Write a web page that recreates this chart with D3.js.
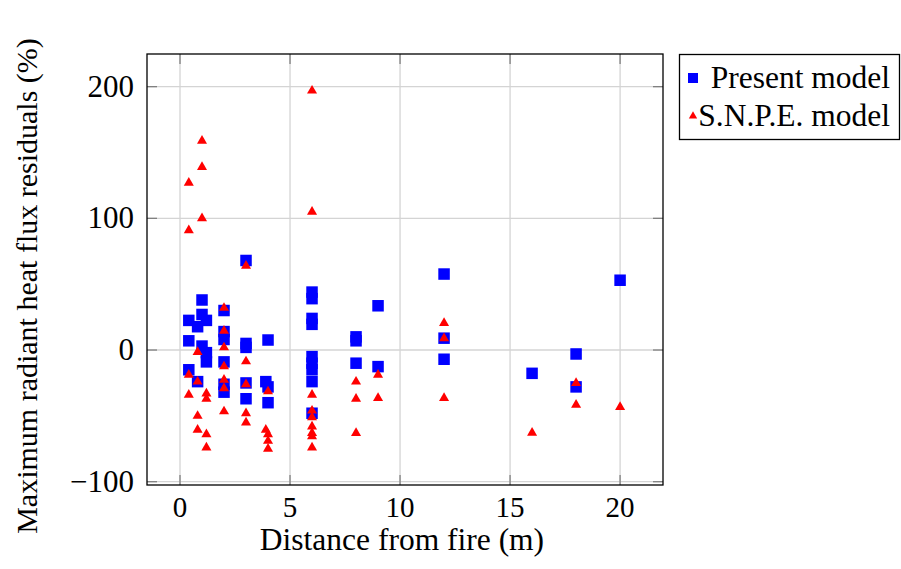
<!DOCTYPE html>
<html>
<head>
<meta charset="utf-8">
<script src="https://cdn.jsdelivr.net/npm/d3@7"></script>
<style>
  body { margin: 0; background: #fff; }
  text { font-family: "Liberation Serif", "Times New Roman", serif; fill: #000; }
</style>
</head>
<body>
<div id="chart"></div>
<script>
// Residuals
const presentX = [0.4, 0.4, 0.4, 0.8, 0.8, 1, 1, 1, 1.2, 1.2, 1.2,
  2, 2, 2, 2, 2, 2, 3, 3, 3, 3, 3, 3.9, 4, 4, 4,
  6, 6, 6, 6, 6, 6, 6, 6, 6, 8, 8, 8, 9, 9, 12, 12, 12, 16, 18, 18, 20];
const presentY = [22.5, 7, -15, 17.7, -24, 38, 27, 3, 22.5, -2, -9,
  30, 14, 8, -9, -26, -32, 68, 5, 2, -25, -37, -24, 7.6, -28, -40,
  44, 39, 24, 19.5, -5, -10, -15, -24, -48, 10, 7, -10, 33.6, -12.6, 57.7, 9, -7, -17.7, -3, -28, 53];

const snpeX = [0.4, 0.4, 0.4, 0.4, 0.8, 0.8, 0.8, 0.8, 1, 1, 1, 1.2, 1.2, 1.2, 1.2,
  2, 2, 2, 2, 2, 2, 2, 3, 3, 3, 3, 3, 4, 3.9, 4, 4, 4,
  6, 6, 6, 6, 6, 6, 6, 6, 6, 8, 8, 8, 9, 9, 12, 12, 12, 16, 18, 18, 20];
const snpeY = [128, 92, -17.7, -33, -0.5, -23, -49, -59.5, 160, 140, 101, -32, -36, -63, -73,
  33, 15.7, 3, -11.4, -21.5, -28, -45.6, 65, -7.6, -25, -47, -54, -30.4, -59.5, -63, -68, -74,
  198, 106, -33, -45, -50, -57, -62, -64.5, -73, -23, -36, -62, -17.7, -35.4, 21.5, 10, -35.4, -61.8, -24, -40.5, -42.3];

const xTicks = [0, 5, 10, 15, 20];
const yTicks = [-100, 0, 100, 200];
const seriesNames = ["Present model", "S.N.P.E. model"];

const width = 901, height = 569;
const plotL = 147, plotR = 663, plotT = 54, plotB = 485;

const svg = d3.select("#chart").append("svg")
  .attr("width", width)
  .attr("height", height);

const x = d3.scaleLinear().domain([-1.5, 21.95]).range([plotL, plotR]);
const y = d3.scaleLinear().domain([-102.5, 224.8]).range([plotB, plotT]);

// grid
svg.append("g").selectAll("line").data(xTicks).join("line")
  .attr("x1", d => x(d)).attr("x2", d => x(d))
  .attr("y1", plotT).attr("y2", plotB)
  .attr("stroke", "#d4d4d4").attr("stroke-width", 1.3);
svg.append("g").selectAll("line").data(yTicks).join("line")
  .attr("x1", plotL).attr("x2", plotR)
  .attr("y1", d => y(d)).attr("y2", d => y(d))
  .attr("stroke", "#d4d4d4").attr("stroke-width", 1.3);

// tick marks, inside on all four sides
const tickLen = 10;
const ticks = svg.append("g").attr("stroke", "#808080").attr("stroke-width", 1.3);
xTicks.forEach(t => {
  ticks.append("line").attr("x1", x(t)).attr("x2", x(t)).attr("y1", plotB).attr("y2", plotB - tickLen);
  ticks.append("line").attr("x1", x(t)).attr("x2", x(t)).attr("y1", plotT).attr("y2", plotT + tickLen);
});
yTicks.forEach(t => {
  ticks.append("line").attr("x1", plotL).attr("x2", plotL + tickLen).attr("y1", y(t)).attr("y2", y(t));
  ticks.append("line").attr("x1", plotR).attr("x2", plotR - tickLen).attr("y1", y(t)).attr("y2", y(t));
});

// tick labels
svg.append("g").selectAll("text").data(xTicks).join("text")
  .attr("x", d => x(d)).attr("y", 517)
  .attr("text-anchor", "middle")
  .style("font-size", "29px")
  .text(d => d);
svg.append("g").selectAll("text").data(yTicks).join("text")
  .attr("x", 134).attr("y", d => y(d) + 10)
  .attr("text-anchor", "end")
  .style("font-size", "31px")
  .text(d => d < 0 ? "\u2212" + Math.abs(d) : d);

// markers
const sq = 11.5;
svg.append("g").selectAll("rect").data(presentX.map((d, i) => [d, presentY[i]])).join("rect")
  .attr("x", d => x(d[0]) - sq / 2)
  .attr("y", d => y(d[1]) - sq / 2)
  .attr("width", sq).attr("height", sq)
  .attr("fill", "#0000ff");

function tri(cx, cy, r) {
  const w = r * Math.cos(Math.PI / 6);
  return `M${cx},${cy - r}L${cx + w},${cy + r / 2}L${cx - w},${cy + r / 2}Z`;
}
svg.append("g").selectAll("path").data(snpeX.map((d, i) => [d, snpeY[i]])).join("path")
  .attr("d", d => tri(x(d[0]), y(d[1]) + 1.4, 5.8))
  .attr("fill", "#ff0000");

// frame
svg.append("rect")
  .attr("x", plotL).attr("y", plotT)
  .attr("width", plotR - plotL).attr("height", plotB - plotT)
  .attr("fill", "none").attr("stroke", "#000").attr("stroke-width", 1.3);

// axis titles
svg.append("text")
  .attr("x", (plotL + plotR) / 2 - 3).attr("y", 550)
  .attr("text-anchor", "middle")
  .style("font-size", "31.5px")
  .text("Distance from fire (m)");
svg.append("text")
  .attr("transform", "translate(37,286) rotate(-90)")
  .attr("text-anchor", "middle")
  .style("font-size", "30px")
  .text("Maximum radiant heat flux residuals (%)");

// legend
const lg = svg.append("g");
lg.append("rect")
  .attr("x", 679.5).attr("y", 54.5)
  .attr("width", 220).attr("height", 85)
  .attr("fill", "#fff").attr("stroke", "#000").attr("stroke-width", 1.3);
lg.append("rect")
  .attr("x", 693 - 5).attr("y", 78 - 5).attr("width", 10).attr("height", 10)
  .attr("fill", "#0000ff");
lg.append("path")
  .attr("d", tri(693, 116, 4.8))
  .attr("fill", "#ff0000");
lg.selectAll("text.lab").data(seriesNames).join("text")
  .attr("class", "lab")
  .attr("x", 890).attr("y", (d, i) => i === 0 ? 87.5 : 126)
  .attr("text-anchor", "end")
  .style("font-size", "31.5px")
  .text(d => d);
</script>
</body>
</html>
